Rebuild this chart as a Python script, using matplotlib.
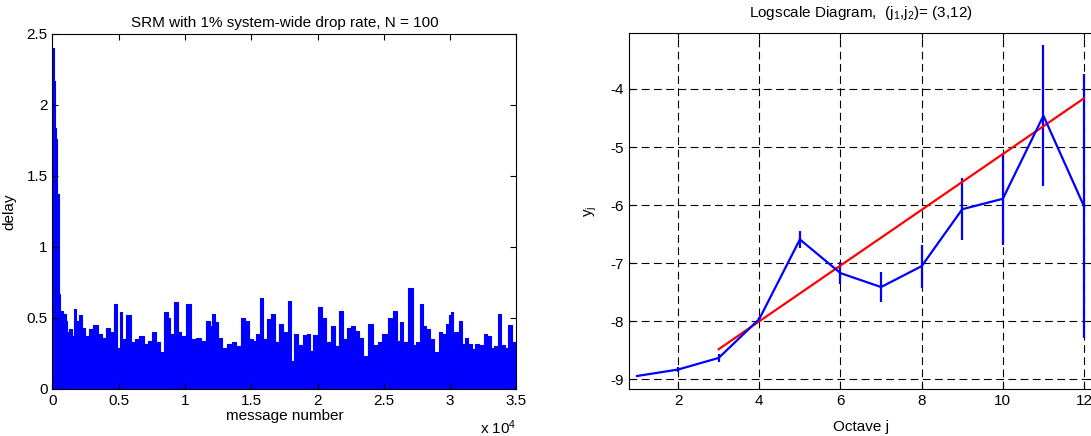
import matplotlib
matplotlib.use("Agg")
import matplotlib.pyplot as plt
from matplotlib.ticker import FuncFormatter

plt.rcParams['font.family'] = ['Liberation Sans', 'DejaVu Sans']
plt.rcParams['mathtext.default'] = 'regular'
plt.rcParams['axes.unicode_minus'] = False
plt.rcParams['font.size'] = 11

# left panel: delay envelope (message number, delay)
msg = [50, 130, 210, 315, 395, 525, 680, 920, 1050, 1180, 1310, 1570, 1710, 1890,
       2100, 2360, 2620, 2890, 3280, 3540, 3940, 4200, 4460, 4780, 4990, 5170, 5380,
       5770, 6040, 6430, 6690, 7090, 7350, 7690, 8000, 8270, 8610, 8790, 8970, 9320,
       9580, 9840, 10310, 10630, 11020, 11410, 11760, 11940, 12150, 12330, 12600,
       12990, 13380, 13700, 14040, 14380, 14670, 14930, 15250, 15510, 15770, 16010,
       16320, 16640, 16930, 17190, 17580, 17900, 18050, 18320, 18680, 19100, 19290,
       19550, 19810, 20230, 20470, 20860, 21200, 21460, 21780, 22040, 22440, 22620,
       22960, 23220, 23620, 24010, 24400, 24670, 25060, 25580, 25850, 26110, 26290,
       26630, 27030, 27290, 27550, 27890, 28080, 28340, 28600, 29000, 29260, 29520,
       29780, 29990, 30120, 30310, 30570, 30780, 30960, 31230, 31490, 31750, 32010,
       32410, 32670, 32930, 33190, 33460, 33720, 33980, 34240, 34510, 34770, 34950]
delay = [2.40, 2.17, 1.84, 1.76, 1.37, 0.67, 0.55, 0.53, 0.48, 0.40, 0.42, 0.37, 0.56,
         0.48, 0.52, 0.43, 0.37, 0.42, 0.45, 0.39, 0.36, 0.43, 0.40, 0.60, 0.29, 0.54,
         0.35, 0.52, 0.33, 0.35, 0.37, 0.32, 0.34, 0.40, 0.33, 0.26, 0.54, 0.50, 0.39,
         0.61, 0.40, 0.37, 0.60, 0.35, 0.36, 0.34, 0.48, 0.44, 0.53, 0.47, 0.36, 0.29,
         0.32, 0.33, 0.30, 0.50, 0.48, 0.35, 0.34, 0.39, 0.64, 0.35, 0.49, 0.53, 0.33,
         0.46, 0.40, 0.62, 0.20, 0.39, 0.31, 0.38, 0.39, 0.27, 0.38, 0.58, 0.50, 0.33,
         0.44, 0.30, 0.55, 0.35, 0.43, 0.44, 0.41, 0.36, 0.23, 0.46, 0.31, 0.33, 0.39,
         0.50, 0.55, 0.34, 0.47, 0.33, 0.71, 0.31, 0.33, 0.60, 0.44, 0.42, 0.35, 0.26,
         0.40, 0.39, 0.46, 0.52, 0.54, 0.40, 0.40, 0.48, 0.32, 0.36, 0.32, 0.28, 0.32,
         0.31, 0.39, 0.37, 0.29, 0.30, 0.53, 0.31, 0.29, 0.45, 0.33, 0.29]

# right panel: logscale diagram
octave = [1, 2, 3, 4, 5, 6, 7, 8, 9, 10, 11, 12]
yj = [-8.94, -8.83, -8.63, -7.96, -6.59, -7.17, -7.41, -7.05, -6.07, -5.89, -4.46, -6.02]
yerr = [0.02, 0.04, 0.07, 0.04, 0.14, 0.19, 0.26, 0.37, 0.53, 0.79, 1.21, 2.27]
fit_j = [3, 12]
fit_y = [-8.48, -4.16]

fig = plt.figure(figsize=(10.91, 4.36), dpi=100)

ax1 = fig.add_axes([0.0481, 0.1078, 0.4253, 0.8149])
ax1.fill_between(msg, 0, delay, step='mid', color='b', lw=0)
ax1.plot(msg, delay, drawstyle='steps-mid', color='b', lw=0.8)
ax1.set_xlim(0, 35000)
ax1.set_ylim(0, 2.5)
ax1.set_xticks(range(0, 35001, 5000))
ax1.xaxis.set_major_formatter(FuncFormatter(lambda v, p: f"{v / 1e4:g}"))
ax1.set_yticks([0, 0.5, 1, 1.5, 2, 2.5])
ax1.yaxis.set_major_formatter(FuncFormatter(lambda v, p: f"{v:g}"))
ax1.tick_params(direction='in', top=True, right=True, length=4)
ax1.set_title("SRM with 1% system-wide drop rate, N = 100", fontsize=11, pad=5)
ax1.set_xlabel("message number", labelpad=1)
ax1.set_ylabel("delay", labelpad=7)
ax1.text(1.0, -0.083, r"x 10$^4$", transform=ax1.transAxes, ha='right', va='top')

ax2 = fig.add_axes([0.5765, 0.1078, 0.4253, 0.8156])
ax2.errorbar(octave, yj, yerr=yerr, color='b', lw=1.6, elinewidth=1.6, capsize=0)
ax2.plot(fit_j, fit_y, color='r', lw=1.6)
ax2.set_xlim(0.79, 12.22)
ax2.set_ylim(-9.165, -3.043)
ax2.set_xticks([2, 4, 6, 8, 10, 12])
ax2.set_yticks([-9, -8, -7, -6, -5, -4])
ax2.grid(True, color='k', linestyle=(0, (7, 4)), lw=0.8)
ax2.tick_params(direction='in', top=True, right=True, length=4)
ax2.set_title(r"Logscale Diagram,  (j$_1$,j$_2$)= (3,12)", fontsize=11, pad=12)
ax2.set_xlabel("Octave j", labelpad=9)
ax2.set_ylabel("y$_j$", labelpad=8)

fig.savefig("out.png", dpi=100)
